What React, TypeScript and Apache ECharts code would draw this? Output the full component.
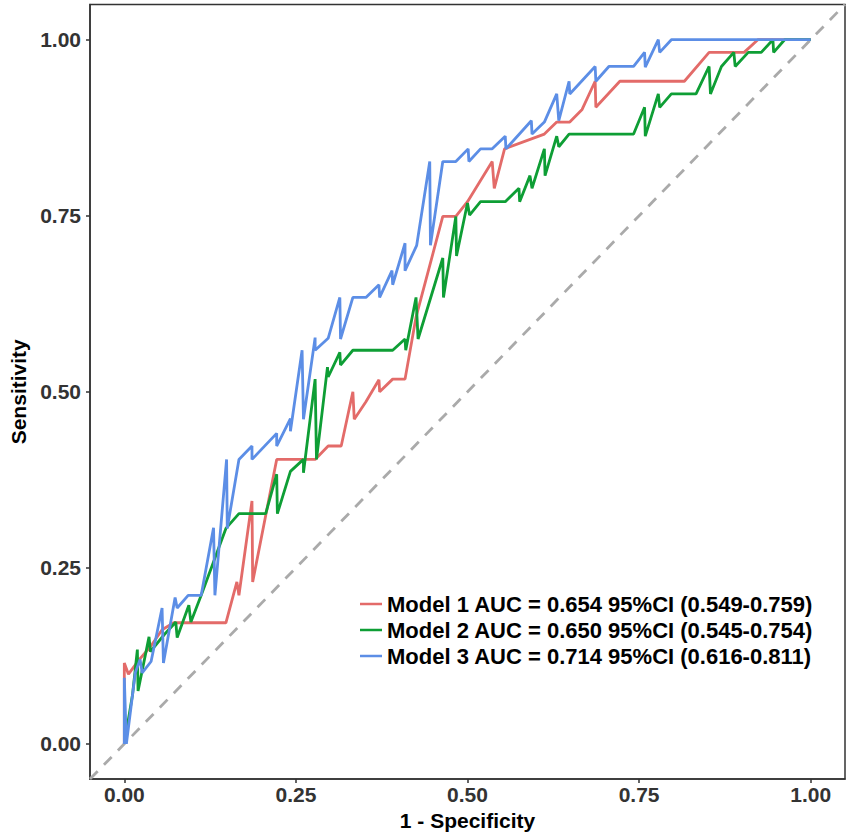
import React, { useEffect, useRef } from "react";
import * as echarts from "echarts";

const tickValues = [0, 0.25, 0.5, 0.75, 1];
const diagonalRef = [-0.05, 1.05];

const legendNames = [
  "Model 1 AUC = 0.654 95%CI (0.549-0.759)",
  "Model 2 AUC = 0.650 95%CI (0.545-0.754)",
  "Model 3 AUC = 0.714 95%CI (0.616-0.811)",
];
const colors = ["#E36B69", "#0E9E35", "#5C8EE6"];

const model1X = [0, 0, 0.006, 0.022, 0.038, 0.055, 0.072, 0.148, 0.164, 0.167, 0.186, 0.187, 0.222, 0.278, 0.297, 0.316, 0.333, 0.335, 0.352, 0.371, 0.372, 0.391, 0.409, 0.425, 0.464, 0.483, 0.5, 0.536, 0.539, 0.554, 0.612, 0.63, 0.649, 0.667, 0.686, 0.687, 0.722, 0.816, 0.852, 0.903, 0.923, 1.0];
const model1Y = [0, 0.115, 0.099, 0.12, 0.138, 0.162, 0.172, 0.172, 0.23, 0.211, 0.345, 0.23, 0.404, 0.404, 0.423, 0.423, 0.5, 0.461, 0.486, 0.517, 0.5, 0.518, 0.518, 0.606, 0.749, 0.749, 0.77, 0.827, 0.789, 0.845, 0.866, 0.883, 0.883, 0.901, 0.941, 0.904, 0.941, 0.941, 0.982, 0.982, 1.0, 1.0];

const model2X = [0, 0.012, 0.019, 0.02, 0.036, 0.038, 0.058, 0.075, 0.077, 0.094, 0.097, 0.112, 0.148, 0.167, 0.206, 0.222, 0.223, 0.242, 0.261, 0.261, 0.278, 0.28, 0.296, 0.297, 0.314, 0.315, 0.333, 0.391, 0.409, 0.41, 0.425, 0.428, 0.464, 0.465, 0.483, 0.484, 0.5, 0.503, 0.519, 0.555, 0.575, 0.576, 0.591, 0.594, 0.612, 0.613, 0.63, 0.633, 0.648, 0.742, 0.758, 0.759, 0.778, 0.78, 0.797, 0.833, 0.852, 0.854, 0.87, 0.888, 0.89, 0.909, 0.928, 0.945, 0.946, 0.962, 1.0];
const model2Y = [0, 0.07, 0.134, 0.075, 0.152, 0.131, 0.155, 0.173, 0.151, 0.197, 0.173, 0.211, 0.306, 0.327, 0.327, 0.383, 0.327, 0.387, 0.404, 0.385, 0.518, 0.404, 0.535, 0.521, 0.556, 0.538, 0.559, 0.559, 0.575, 0.559, 0.634, 0.575, 0.69, 0.634, 0.749, 0.693, 0.768, 0.751, 0.77, 0.77, 0.789, 0.77, 0.807, 0.789, 0.845, 0.807, 0.863, 0.848, 0.866, 0.866, 0.904, 0.863, 0.923, 0.904, 0.923, 0.923, 0.962, 0.923, 0.962, 0.982, 0.962, 0.982, 0.982, 1.0, 0.982, 1.0, 1.0];

const model3X = [0, 0, 0.003, 0.016, 0.023, 0.026, 0.039, 0.055, 0.057, 0.074, 0.077, 0.093, 0.112, 0.13, 0.132, 0.149, 0.15, 0.167, 0.186, 0.186, 0.222, 0.222, 0.242, 0.242, 0.259, 0.261, 0.278, 0.278, 0.297, 0.314, 0.315, 0.333, 0.352, 0.371, 0.372, 0.39, 0.391, 0.409, 0.409, 0.426, 0.445, 0.446, 0.464, 0.483, 0.501, 0.502, 0.519, 0.536, 0.555, 0.556, 0.593, 0.594, 0.612, 0.63, 0.633, 0.648, 0.649, 0.686, 0.687, 0.706, 0.742, 0.758, 0.759, 0.778, 0.78, 0.797, 1.0];
const model3Y = [0, 0.094, 0, 0.101, 0.12, 0.101, 0.117, 0.193, 0.115, 0.208, 0.193, 0.211, 0.211, 0.307, 0.211, 0.404, 0.306, 0.404, 0.423, 0.404, 0.441, 0.423, 0.462, 0.444, 0.559, 0.461, 0.577, 0.559, 0.576, 0.634, 0.575, 0.634, 0.634, 0.652, 0.634, 0.672, 0.652, 0.711, 0.672, 0.708, 0.827, 0.708, 0.827, 0.827, 0.845, 0.827, 0.845, 0.845, 0.863, 0.845, 0.885, 0.866, 0.883, 0.923, 0.885, 0.941, 0.923, 0.962, 0.941, 0.962, 0.962, 0.982, 0.961, 1.0, 0.982, 1.0, 1.0];

const pairs = (xs: number[], ys: number[]) => xs.map((x, i) => [x, ys[i]]);

export default function App() {
  const ref = useRef<HTMLDivElement>(null);
  useEffect(() => {
    if (!ref.current) return;
    const chart = echarts.init(ref.current, null, { renderer: "svg" });
    const tickFont = {
      fontFamily: "Liberation Sans, Arial, sans-serif",
      fontWeight: "bold" as const,
      fontSize: 21,
      color: "#333333",
    };
    const nameFont = {
      fontFamily: "Liberation Sans, Arial, sans-serif",
      fontWeight: "bold" as const,
      fontSize: 21,
      color: "#000000",
    };
    const axisLineStyle = { color: "#333333", width: 1.5 };
    const lineSeries = (name: string, xs: number[], ys: number[], color: string) => ({
      name,
      type: "line",
      data: pairs(xs, ys),
      showSymbol: false,
      symbol: "none",
      lineStyle: { color, width: 2.8 },
      itemStyle: { color },
      clip: true,
      z: 3,
    });
    chart.setOption({
      animation: false,
      backgroundColor: "#ffffff",
      grid: {
        left: 85.5,
        top: 4.5,
        right: 6,
        bottom: 50,
        show: true,
        borderColor: "#333333",
        borderWidth: 1.5,
        backgroundColor: "transparent",
      },
      legend: {
        orient: "vertical",
        left: 355,
        top: 586,
        data: legendNames,
        icon: "rect",
        itemWidth: 22,
        itemHeight: 2.5,
        itemGap: 0,
        textStyle: {
          fontFamily: "Liberation Sans, Arial, sans-serif",
          fontWeight: "bold",
          fontSize: 22,
          color: "#000000",
          lineHeight: 26,
        },
      },
      xAxis: {
        type: "value",
        min: diagonalRef[0],
        max: diagonalRef[1],
        name: "1 - Specificity",
        nameLocation: "middle",
        nameGap: 26,
        nameTextStyle: nameFont,
        axisLine: { show: true, onZero: false, lineStyle: axisLineStyle },
        splitLine: { show: false },
        axisTick: {
          show: true,
          length: 4,
          customValues: tickValues,
          lineStyle: axisLineStyle,
        },
        axisLabel: {
          ...tickFont,
          margin: 5,
          customValues: tickValues,
          formatter: (v: number) => v.toFixed(2),
        },
      },
      yAxis: {
        type: "value",
        min: diagonalRef[0],
        max: diagonalRef[1],
        name: "Sensitivity",
        nameLocation: "middle",
        nameGap: 61,
        nameTextStyle: nameFont,
        axisLine: { show: true, onZero: false, lineStyle: axisLineStyle },
        splitLine: { show: false },
        axisTick: {
          show: true,
          length: 4,
          customValues: tickValues,
          lineStyle: axisLineStyle,
        },
        axisLabel: {
          ...tickFont,
          margin: 9,
          customValues: tickValues,
          formatter: (v: number) => v.toFixed(2),
        },
      },
      series: [
        {
          name: "diagonal",
          type: "line",
          data: [
            [diagonalRef[0], diagonalRef[0]],
            [diagonalRef[1], diagonalRef[1]],
          ],
          showSymbol: false,
          symbol: "none",
          lineStyle: { color: "#AAAAAA", width: 2.8, type: [11, 9] },
          clip: true,
          z: 2,
        },
        lineSeries(legendNames[0], model1X, model1Y, colors[0]),
        lineSeries(legendNames[1], model2X, model2Y, colors[1]),
        lineSeries(legendNames[2], model3X, model3Y, colors[2]),
      ],
    });
    return () => chart.dispose();
  }, []);
  return (
    <div
      ref={ref}
      style={{ position: "absolute", left: 0, top: 0, width: 851, height: 836 }}
    />
  );
}
